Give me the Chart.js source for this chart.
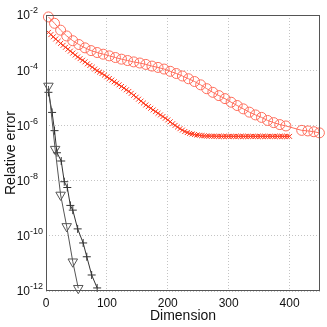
<!DOCTYPE html>
<html>
<head>
<meta charset="utf-8">
<script src="https://cdn.jsdelivr.net/npm/chart.js@4.4.0/dist/chart.umd.min.js"></script>
<style>
  html, body { margin: 0; padding: 0; background: #fff; }
</style>
</head>
<body>
<canvas id="c" width="327" height="327"></canvas>
<script>
// values
const circleDims = [4, 14, 24, 34, 44, 54, 64, 74, 84, 94, 104, 114, 124, 134, 144, 154, 164, 174, 184, 194,
  204, 214, 224, 234, 244, 254, 264, 274, 284, 294, 304, 314, 324, 334, 344, 354, 364, 374, 384, 394,
  420, 430, 440, 449];
const circleErr = [8.51e-3, 5.01e-3, 2.82e-3, 1.74e-3, 1.17e-3, 8.51e-4, 6.46e-4, 5.13e-4, 4.37e-4, 3.80e-4,
  3.31e-4, 2.88e-4, 2.51e-4, 2.24e-4, 2.00e-4, 1.82e-4, 1.62e-4, 1.41e-4, 1.26e-4, 1.10e-4,
  9.12e-5, 7.59e-5, 6.17e-5, 4.90e-5, 3.89e-5, 2.95e-5, 2.14e-5, 1.58e-5, 1.20e-5, 9.33e-6,
  6.92e-6, 5.25e-6, 3.98e-6, 3.02e-6, 2.40e-6, 1.95e-6, 1.51e-6, 1.26e-6, 1.07e-6, 9.55e-7,
  6.61e-7, 6.31e-7, 5.89e-7, 5.37e-7];

const crossDims = [4, 8, 12, 16, 20, 24, 28, 32, 36, 40, 44, 48, 52, 56, 60, 64, 68, 72, 76, 80,
  84, 88, 92, 96, 100, 104, 108, 112, 116, 120, 124, 128, 132, 136, 140, 144, 148, 152, 156, 160,
  164, 168, 172, 176, 180, 184, 188, 192, 196, 200, 204, 208, 212, 216, 220, 224, 228, 232, 236, 240,
  244, 248, 252, 256, 260, 264, 268, 272, 276, 280, 284, 288, 292, 296, 300, 304, 308, 312, 316, 320,
  324, 328, 332, 336, 340, 344, 348, 352, 356, 360, 364, 368, 372, 376, 380, 384, 388, 392, 396, 400];
const crossErr = [2.34e-3, 1.95e-3, 1.62e-3, 1.35e-3, 1.12e-3, 9.33e-4, 7.94e-4, 6.76e-4, 5.75e-4, 4.90e-4,
  4.17e-4, 3.55e-4, 3.02e-4, 2.63e-4, 2.29e-4, 2.00e-4, 1.70e-4, 1.48e-4, 1.29e-4, 1.10e-4,
  9.55e-5, 8.51e-5, 7.59e-5, 6.61e-5, 5.75e-5, 5.01e-5, 4.37e-5, 3.80e-5, 3.39e-5, 2.95e-5,
  2.57e-5, 2.24e-5, 1.95e-5, 1.70e-5, 1.45e-5, 1.23e-5, 1.05e-5, 8.91e-6, 7.59e-6, 6.46e-6,
  5.50e-6, 4.79e-6, 4.17e-6, 3.63e-6, 3.16e-6, 2.75e-6, 2.40e-6, 2.09e-6, 1.82e-6, 1.58e-6,
  1.35e-6, 1.15e-6, 1.00e-6, 8.71e-7, 7.59e-7, 6.76e-7, 6.03e-7, 5.50e-7, 5.13e-7, 4.90e-7,
  4.68e-7, 4.47e-7, 4.37e-7, 4.27e-7, 4.17e-7, 4.12e-7, 4.08e-7, 4.05e-7, 4.03e-7, 4.02e-7,
  4.01e-7, 4.00e-7, 4.00e-7, 4.00e-7, 3.99e-7, 4.00e-7, 4.00e-7, 3.99e-7, 4.00e-7, 4.00e-7,
  4.00e-7, 3.99e-7, 4.00e-7, 4.00e-7, 4.00e-7, 3.99e-7, 4.00e-7, 4.00e-7, 4.00e-7, 3.99e-7,
  4.00e-7, 4.00e-7, 4.00e-7, 3.99e-7, 4.00e-7, 4.00e-7, 4.00e-7, 3.99e-7, 4.00e-7, 4.00e-7];

const triDims = [4, 15, 24, 34, 44, 53];
const triErr = [2.69e-5, 1.38e-7, 3.02e-9, 2.19e-10, 1.15e-11, 1.26e-12];

const plusDims = [4, 10, 14, 18, 25, 30, 35, 40, 44, 52, 61, 67, 75, 84];
const plusErr = [1.58e-5, 2.95e-6, 6.46e-7, 1.02e-7, 5.13e-8, 9.12e-9, 5.62e-9, 1.26e-9, 8.51e-10,
  1.78e-10, 5.50e-11, 1.74e-11, 3.80e-12, 1.29e-12];

const xTicks = [0, 100, 200, 300, 400];
const yTicks = [1e-12, 1e-10, 1e-8, 1e-6, 1e-4, 1e-2];

const TICK_FONT = '"Liberation Sans Narrow", "Liberation Sans", Arial, sans-serif';
const LABEL_FONT = '"Liberation Sans", Arial, sans-serif';

function pts(xs, ys) {
  return xs.map((x, i) => ({ x: x, y: ys[i] }));
}

// frame, y tick labels with exponents, axis titles
const decorations = {
  id: 'decorations',
  afterDraw(chart) {
    const { ctx, chartArea: a, scales: { y } } = chart;
    ctx.save();
    ctx.strokeStyle = '#555';
    ctx.lineWidth = 1;
    ctx.strokeRect(a.left + 0.5, a.top + 0.5, a.right - a.left - 1, a.bottom - a.top - 1);

    ctx.fillStyle = '#111';
    yTicks.forEach(v => {
      const py = y.getPixelForValue(v);
      const e = Math.round(Math.log10(v));
      ctx.font = '12px ' + TICK_FONT;
      ctx.textAlign = 'right';
      ctx.textBaseline = 'middle';
      ctx.fillText('10', 30, py + 1);
      ctx.font = '9px ' + TICK_FONT;
      ctx.textAlign = 'left';
      ctx.fillText(String(e), 30, py - 4);
    });

    ctx.font = '14px ' + LABEL_FONT;
    ctx.textAlign = 'center';
    ctx.textBaseline = 'middle';
    ctx.fillText('Dimension', (a.left + a.right) / 2, 316);

    ctx.translate(11, (a.top + a.bottom) / 2);
    ctx.rotate(-Math.PI / 2);
    ctx.fillText('Relative error', 0, 0);
    ctx.restore();
  }
};

new Chart(document.getElementById('c'), {
  type: 'scatter',
  data: {
    datasets: [
      {
        data: pts(circleDims, circleErr),
        showLine: true,
        borderColor: '#ff6e5c',
        borderWidth: 1,
        pointStyle: 'circle',
        pointRadius: 5,
        pointBorderWidth: 1,
        pointBorderColor: '#ff6e5c',
        pointBackgroundColor: 'rgba(0,0,0,0)',
        clip: 8
      },
      {
        data: pts(crossDims, crossErr),
        showLine: true,
        borderColor: '#ff3a1e',
        borderWidth: 1,
        pointStyle: 'crossRot',
        pointRadius: 3.5,
        pointBorderWidth: 1,
        pointBorderColor: '#ff3a1e'
      },
      {
        data: pts(triDims, triErr),
        showLine: true,
        borderColor: '#555',
        borderWidth: 1,
        pointStyle: 'triangle',
        rotation: 180,
        pointRadius: 5.5,
        pointBorderWidth: 1,
        pointBorderColor: '#555',
        pointBackgroundColor: 'rgba(0,0,0,0)',
        clip: 8
      },
      {
        data: pts(plusDims, plusErr),
        showLine: true,
        borderColor: '#333',
        borderWidth: 1,
        pointStyle: 'cross',
        pointRadius: 4,
        pointBorderWidth: 1,
        pointBorderColor: '#333',
        clip: 8
      }
    ]
  },
  options: {
    responsive: false,
    animation: false,
    devicePixelRatio: 1,
    layout: { padding: { left: 0, top: 15, right: 7, bottom: 0 } },
    plugins: { legend: { display: false }, tooltip: { enabled: false } },
    scales: {
      x: {
        type: 'linear',
        min: 0,
        max: 450,
        afterBuildTicks(s) { s.ticks = xTicks.map(v => ({ value: v })); },
        afterFit(s) { s.height = 36; },
        ticks: { color: '#111', padding: 5, maxRotation: 0, font: { size: 12, family: TICK_FONT } },
        grid: { color: '#c4c4c4', lineWidth: 1, drawTicks: false },
        border: { display: false, dash: [1, 2] }
      },
      y: {
        type: 'logarithmic',
        min: 1e-12,
        max: 1e-2,
        afterBuildTicks(s) { s.ticks = yTicks.map(v => ({ value: v })); },
        afterFit(s) { s.width = 46; },
        ticks: { display: false },
        grid: { color: '#c4c4c4', lineWidth: 1, drawTicks: false },
        border: { display: false, dash: [1, 2] }
      }
    }
  },
  plugins: [decorations]
});
</script>
</body>
</html>
